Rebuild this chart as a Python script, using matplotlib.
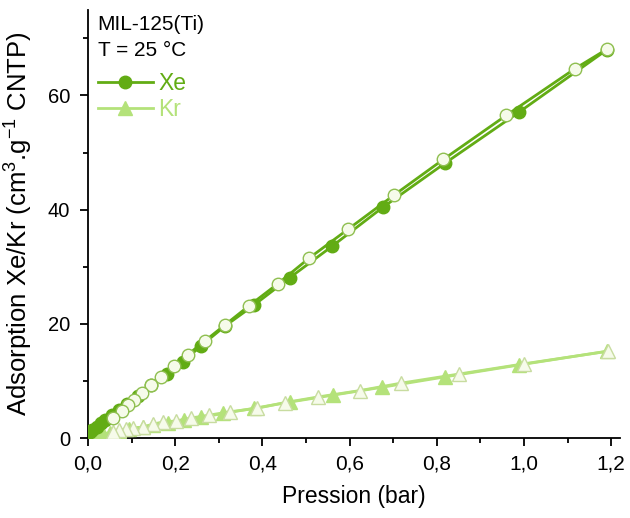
import numpy as np
import matplotlib.pyplot as plt
from matplotlib.ticker import MultipleLocator, FuncFormatter

plt.rcParams['font.family'] = ['Liberation Sans', 'DejaVu Sans']
plt.rcParams['mathtext.default'] = 'regular'

# Xe adsorption (filled) / desorption (open)
xe_ads_p = [0.004, 0.01, 0.02, 0.03, 0.04, 0.055, 0.07, 0.09, 0.115, 0.144, 0.181, 0.217,
            0.26, 0.314, 0.381, 0.463, 0.56, 0.676, 0.818, 0.989, 1.19]
xe_ads_v = [1.0, 1.4, 2.0, 2.6, 3.2, 4.0, 4.9, 6.0, 7.4, 9.2, 11.2, 13.3,
            16.2, 19.6, 23.3, 28.1, 33.6, 40.4, 48.1, 57.1, 68.0]
xe_des_p = [1.19, 1.117, 0.959, 0.815, 0.701, 0.597, 0.507, 0.435, 0.370, 0.314, 0.268,
            0.229, 0.197, 0.167, 0.144, 0.124, 0.105, 0.092, 0.078, 0.058]
xe_des_v = [68.1, 64.7, 56.5, 48.8, 42.5, 36.6, 31.5, 27.0, 23.2, 19.8, 17.0,
            14.6, 12.6, 10.7, 9.3, 7.9, 6.6, 5.7, 4.7, 3.5]

# Kr adsorption (filled) / desorption (open)
kr_ads_p = [0.005, 0.012, 0.022, 0.035, 0.05, 0.07, 0.095, 0.125, 0.15, 0.183, 0.22,
            0.259, 0.31, 0.38, 0.463, 0.561, 0.675, 0.818, 0.989, 1.19]
kr_ads_v = [0.15, 0.3, 0.5, 0.7, 0.95, 1.25, 1.6, 1.95, 2.3, 2.7, 3.1,
            3.6, 4.3, 5.2, 6.3, 7.5, 8.9, 10.7, 12.8, 15.2]
kr_des_p = [1.193, 1.0, 0.85, 0.717, 0.623, 0.528, 0.451, 0.387, 0.325, 0.277, 0.236,
            0.202, 0.172, 0.149, 0.126, 0.103, 0.087, 0.071, 0.057]
kr_des_v = [15.2, 13.0, 11.2, 9.6, 8.3, 7.2, 6.2, 5.2, 4.6, 4.0, 3.5,
            3.0, 2.8, 2.45, 1.9, 1.75, 1.6, 1.4, 1.05]

xe_col = '#62ac14'
kr_col = '#b4e27a'
open_fill = '#f6fbea'

fig = plt.figure(figsize=(6.3, 5.18), dpi=100)
ax = fig.add_axes([0.1397, 0.1544, 0.8443, 0.8266])

ax.plot(kr_ads_p, kr_ads_v, color=kr_col, lw=2, marker='^', ms=9.5, mfc=kr_col, mec=kr_col, label='Kr', zorder=3)
ax.plot(kr_des_p, kr_des_v, color=kr_col, lw=2, marker='^', ms=9.5, mfc=open_fill, mec='#c8dca0', mew=1, zorder=3)
ax.plot(xe_ads_p, xe_ads_v, color=xe_col, lw=2, marker='o', ms=9, mfc=xe_col, mec=xe_col, label='Xe', zorder=4)
ax.plot(xe_des_p, xe_des_v, color=xe_col, lw=2, marker='o', ms=9, mfc=open_fill, mec='#8fbf50', mew=1, zorder=4)

ax.set_xlim(0, 1.22)
ax.set_ylim(0, 75)
ax.xaxis.set_major_locator(MultipleLocator(0.2))
ax.xaxis.set_minor_locator(MultipleLocator(0.1))
ax.yaxis.set_major_locator(MultipleLocator(20))
ax.yaxis.set_minor_locator(MultipleLocator(10))
ax.xaxis.set_major_formatter(FuncFormatter(lambda v, p: f'{v:.1f}'.replace('.', ',')))

for s in ['top', 'right']:
    ax.spines[s].set_visible(False)
for s in ['left', 'bottom']:
    ax.spines[s].set_linewidth(1.3)
ax.tick_params(which='major', direction='out', length=6, width=1.3)
ax.tick_params(which='minor', direction='out', length=3.5, width=1.3)
ax.tick_params(axis='x', which='major', labelsize=15, pad=6)
ax.tick_params(axis='y', which='major', labelsize=14.5, pad=7)

ax.set_xlabel('Pression (bar)', fontsize=16.5, labelpad=8)
ax.set_ylabel('Adsorption Xe/Kr (cm$^{3}$.g$^{-1}$ CNTP)', fontsize=18.5)
ax.yaxis.set_label_coords(-0.1, 0.5)

ax.text(0.018, 0.988, 'MIL-125(Ti)\nT = 25 °C', transform=ax.transAxes, fontsize=15,
        va='top', ha='left', linespacing=1.45)
leg = ax.legend(handles=[ax.lines[2], ax.lines[0]], loc='upper left', bbox_to_anchor=(-0.012, 0.893),
                frameon=False, fontsize=16.5, handlelength=2.4, handletextpad=0.25,
                labelspacing=0.15, borderaxespad=0.3)
for t, c in zip(leg.get_texts(), [xe_col, kr_col]):
    t.set_color(c)

fig.savefig('out.png', dpi=100)
